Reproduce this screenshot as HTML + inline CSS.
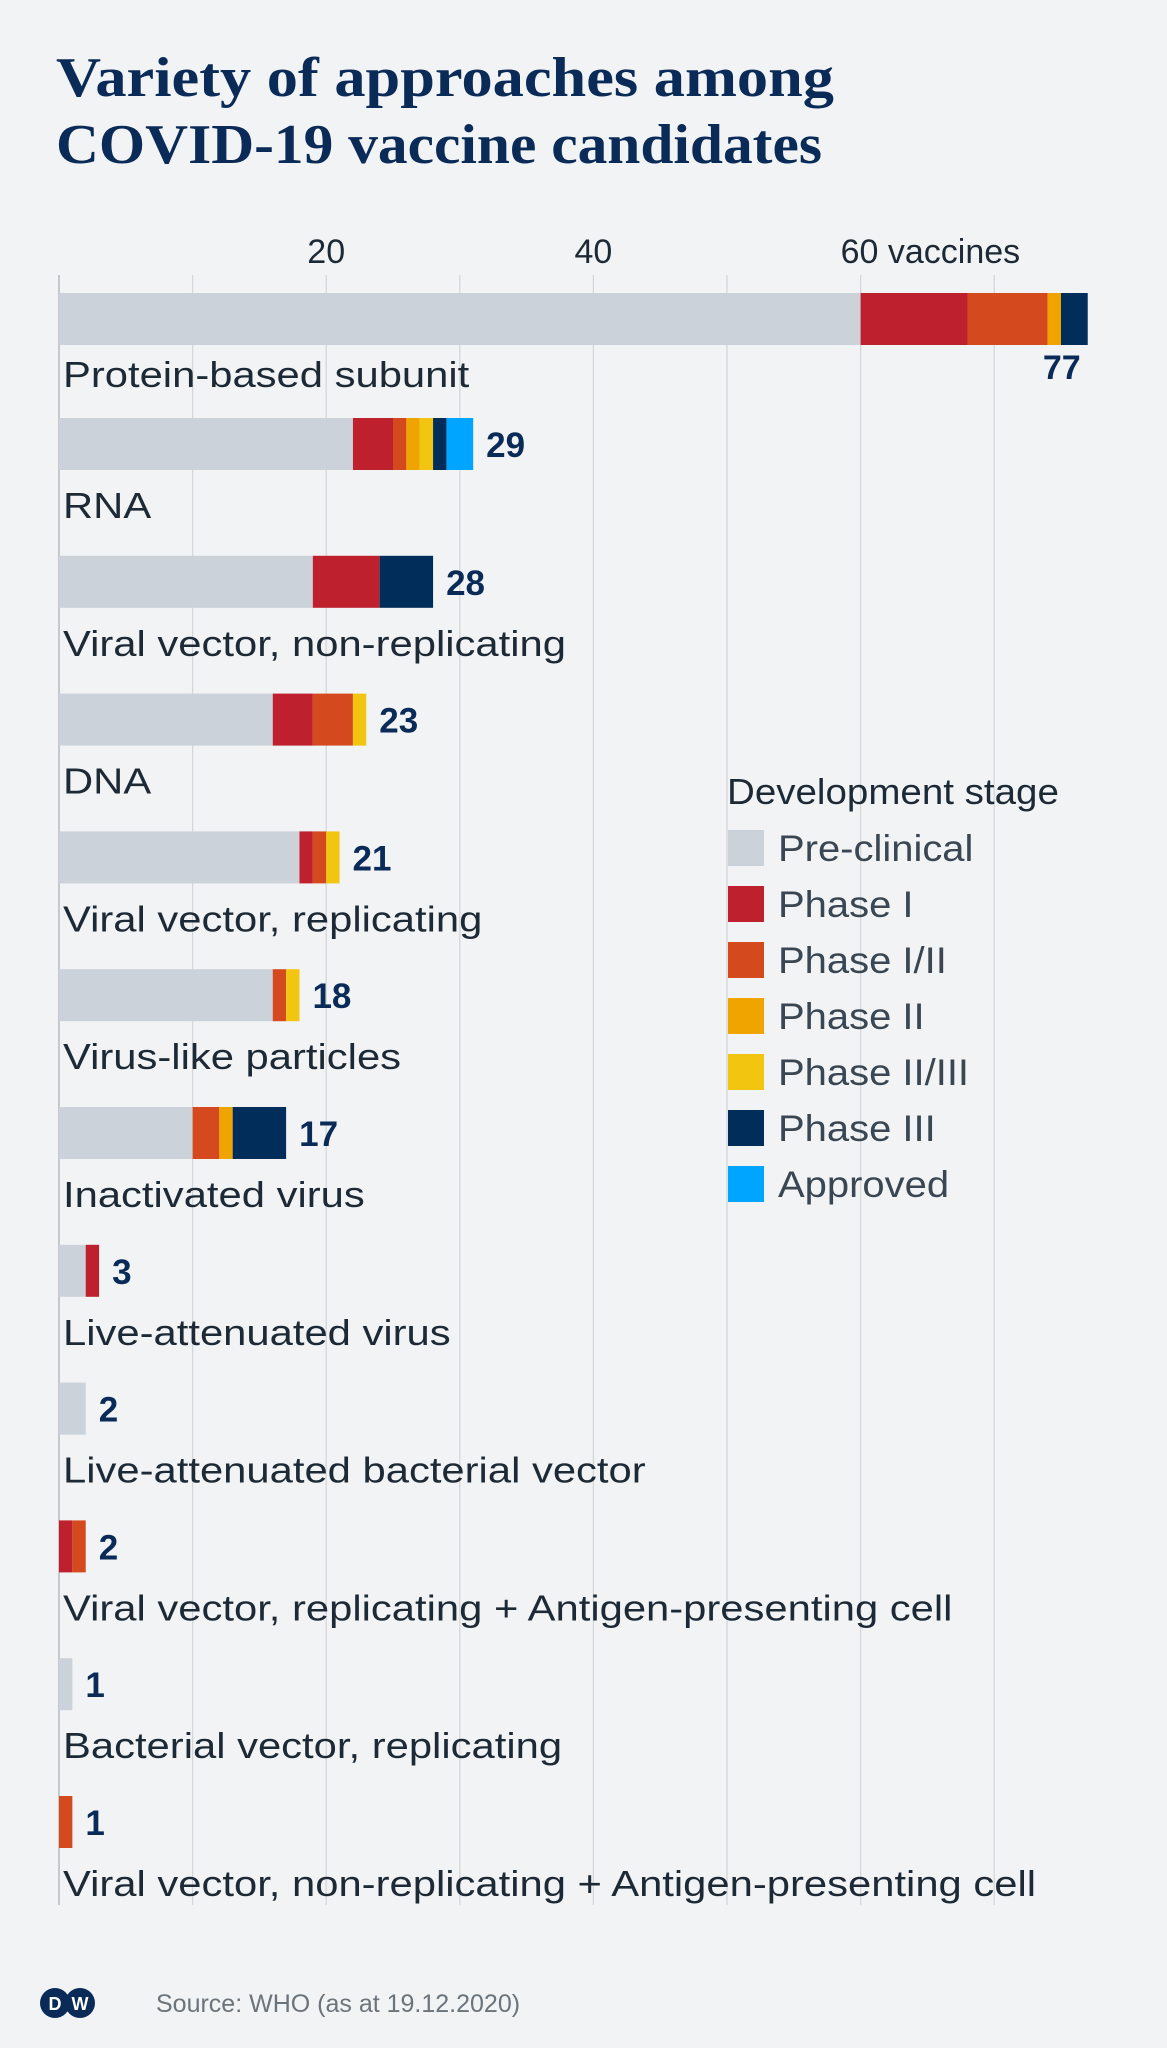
<!DOCTYPE html>
<html><head><meta charset="utf-8"><style>
html,body{margin:0;padding:0;background:#f1f3f5;}
svg{display:block;font-family:"Liberation Sans",sans-serif;}
</style></head><body>
<svg id="chart" width="1167" height="2048" viewBox="0 0 1167 2048" xmlns="http://www.w3.org/2000/svg">
<rect width="1167" height="2048" fill="#f1f3f5"/>
<text x="56" y="96" font-family="Liberation Serif, serif" font-size="56" font-weight="bold" fill="#0a2a57" textLength="778" lengthAdjust="spacingAndGlyphs">Variety of approaches among</text>
<text x="56" y="163" font-family="Liberation Serif, serif" font-size="56" font-weight="bold" fill="#0a2a57" textLength="766" lengthAdjust="spacingAndGlyphs">COVID-19 vaccine candidates</text>
<g id="grid"></g><g id="bars"></g><g id="legend"></g>
<g>
<circle cx="55" cy="2003" r="15" fill="#0a2a57"/><circle cx="80" cy="2003" r="15" fill="#0a2a57"/>
<text x="55" y="2010" font-size="18" font-weight="bold" fill="#fff" text-anchor="middle">D</text>
<text x="80" y="2010" font-size="18" font-weight="bold" fill="#fff" text-anchor="middle">W</text>
</g>
<text x="156" y="2012" font-size="25" fill="#6b737b">Source: WHO (as at 19.12.2020)</text>
</svg>
<script>
const categories=["Protein-based subunit","RNA","Viral vector, non-replicating","DNA","Viral vector, replicating","Virus-like particles","Inactivated virus","Live-attenuated virus","Live-attenuated bacterial vector","Viral vector, replicating + Antigen-presenting cell","Bacterial vector, replicating","Viral vector, non-replicating + Antigen-presenting cell"];
const stages=["Pre-clinical","Phase I","Phase I/II","Phase II","Phase II/III","Phase III","Approved"];
const totals=[77,29,28,23,21,18,17,3,2,2,1,1];
const preclinical=[60,22,19,16,18,16,10,2,2,0,1,0];
const phase1=[8,3,5,3,1,0,0,1,0,1,0,0];
const phase12=[6,1,0,3,1,1,2,0,0,1,0,1];
const phase2=[1,1,0,0,0,0,1,0,0,0,0,0];
const phase23=[0,1,0,1,1,1,0,0,0,0,0,0];
const phase3=[2,1,4,0,0,0,4,0,0,0,0,0];
const approved=[0,2,0,0,0,0,0,0,0,0,0,0];
const ticks=[10,20,30,40,50,60,70];
const tickLabels={20:"20",40:"40",60:"60 vaccines"};
const series=[preclinical,phase1,phase12,phase2,phase23,phase3,approved];
const colors=["#cbd2d9","#be202e","#d44a1e","#f0a400","#f2c510","#002d5a","#00a5ff"];
const NS="http://www.w3.org/2000/svg";
const x0=59,ppu=13.36,barH=52;
const xs=v=>x0+v*ppu;
const ys=i=>i==0?293:418+(i-1)*137.8;
function mk(tag,attrs,parent,txt){const e=document.createElementNS(NS,tag);for(const k in attrs)e.setAttribute(k,attrs[k]);if(txt!==undefined)e.textContent=txt;parent.appendChild(e);return e;}
function stretch(t,f){const w=t.getComputedTextLength();t.setAttribute('textLength',w*f);t.setAttribute('lengthAdjust','spacingAndGlyphs');}
const grid=document.getElementById('grid'),bars=document.getElementById('bars'),legend=document.getElementById('legend');
ticks.forEach(t=>{
 const l=mk('line',{x1:xs(t),x2:xs(t),y1:275,y2:1905,stroke:'#d3d7db','stroke-width':1.3},grid);
 
 
 if(tickLabels[t]){
  const tx=mk('text',{x:xs(t)+(t==60?-20:0),y:263,'font-size':34,fill:'#1d2a36','text-anchor':t==60?'start':'middle'},grid,tickLabels[t]);
  
  
 }
});
const ax=mk('line',{x1:x0,x2:x0,y1:275,y2:1905,stroke:'#b5bbc1','stroke-width':1.5},grid);


categories.forEach((c,i)=>{
 let cum=0;const y=ys(i);
 series.forEach((s,k)=>{
  if(s[i]>0){
   const r=mk('rect',{x:xs(cum),y:y,width:s[i]*ppu,height:barH,fill:colors[k]},bars);
   
   
  }
  cum+=s[i];
 });
 const v=i==0?mk('text',{x:xs(cum)-7,y:y+86,'font-size':34,'font-weight':'bold',fill:'#0a2a57','text-anchor':'end'},bars,String(totals[i]))
  :mk('text',{x:xs(cum)+13,y:y+39,'font-size':35,'font-weight':'bold',fill:'#0a2a57'},bars,String(totals[i]));
 
 
 const lb=mk('text',{x:x0+4,y:y+(i==0?94:100),'font-size':36,fill:'#1d2a36'},bars,c);
 
 
 stretch(lb,1.16);
});
const lt=mk('text',{x:727,y:804,'font-size':36,fill:'#1d2a36'},legend,'Development stage');


stretch(lt,1.07);
stages.forEach((s,k)=>{
 const cy=848+k*56;
 const r=mk('rect',{x:728,y:cy-18,width:36,height:36,fill:colors[k]},legend);
 
 
 const t=mk('text',{x:778,y:cy+13,'font-size':37,fill:'#3a4752'},legend,s);
 
 
 stretch(t,1.08);
});
</script>
</body></html>
